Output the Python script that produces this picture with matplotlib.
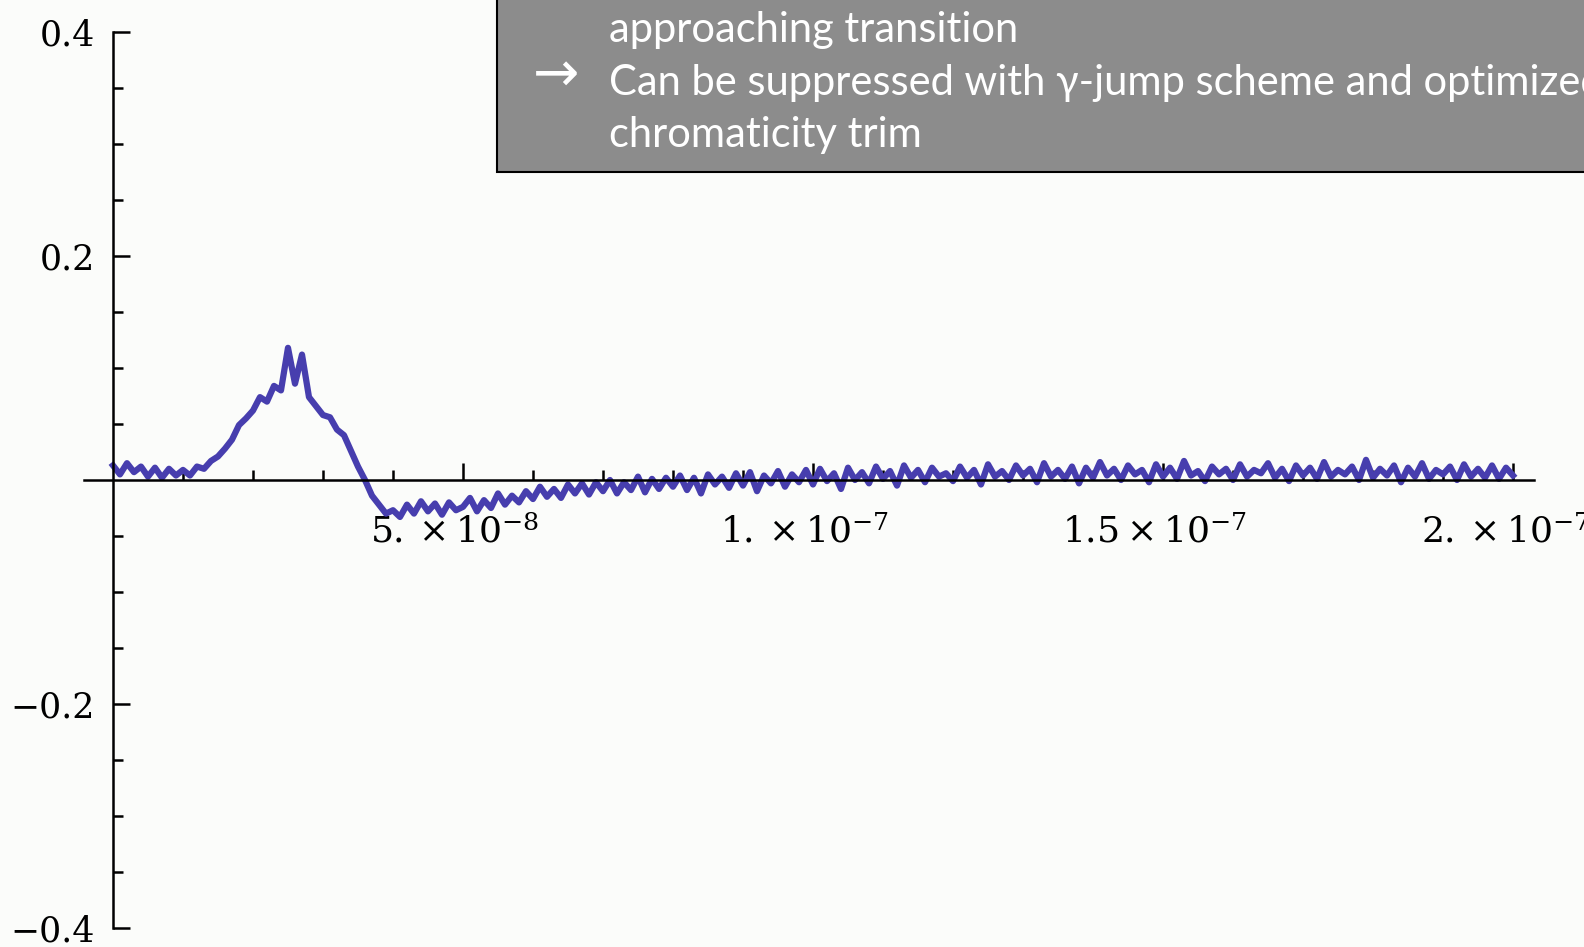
import numpy as np
import matplotlib
matplotlib.use("Agg")
import matplotlib.pyplot as plt
import matplotlib.transforms as mtransforms
from matplotlib.patches import Rectangle
from matplotlib.ticker import FixedLocator

# signal, one value per ns from 0 to 200 ns
signal = [
    0.013, 0.005, 0.015, 0.007, 0.012, 0.003, 0.011, 0.002, 0.010, 0.004,
    0.009, 0.004, 0.012, 0.010, 0.017, 0.021, 0.028, 0.036, 0.049, 0.055,
    0.062, 0.074, 0.070, 0.084, 0.080, 0.118, 0.086, 0.112, 0.074, 0.066,
    0.058, 0.056, 0.045, 0.040, 0.026, 0.012, 0.000, -0.014, -0.022, -0.030,
    -0.027, -0.033, -0.022, -0.030, -0.019, -0.028, -0.021, -0.031, -0.020, -0.027,
    -0.024, -0.016, -0.028, -0.018, -0.025, -0.012, -0.022, -0.014, -0.020, -0.010,
    -0.017, -0.006, -0.015, -0.008, -0.016, -0.004, -0.012, -0.003, -0.013, -0.002,
    -0.010, 0.000, -0.012, -0.002, -0.009, 0.003, -0.011, 0.001, -0.008, 0.002,
    -0.006, 0.004, -0.009, 0.002, -0.012, 0.005, -0.004, 0.003, -0.007, 0.006,
    -0.005, 0.007, -0.010, 0.004, -0.003, 0.008, -0.006, 0.005, -0.002, 0.009,
    -0.004, 0.010, -0.001, 0.006, -0.008, 0.011, 0.000, 0.007, -0.003, 0.012,
    0.001, 0.008, -0.005, 0.013, 0.002, 0.009, -0.002, 0.011, 0.003, 0.006,
    -0.001, 0.012, 0.002, 0.009, -0.004, 0.014, 0.003, 0.008, 0.000, 0.013,
    0.004, 0.010, -0.002, 0.015, 0.003, 0.009, 0.001, 0.012, -0.003, 0.011,
    0.002, 0.016, 0.004, 0.010, 0.000, 0.013, 0.005, 0.009, -0.002, 0.014,
    0.003, 0.011, 0.001, 0.017, 0.004, 0.008, -0.001, 0.012, 0.005, 0.010,
    0.000, 0.014, 0.003, 0.009, 0.006, 0.015, 0.002, 0.010, -0.001, 0.013,
    0.004, 0.011, 0.001, 0.016, 0.003, 0.009, 0.005, 0.012, 0.000, 0.018,
    0.002, 0.010, 0.004, 0.013, -0.002, 0.011, 0.003, 0.015, 0.001, 0.009,
    0.005, 0.012, 0.000, 0.014, 0.003, 0.010, 0.002, 0.013, 0.001, 0.011,
    0.004,
]
time = np.arange(len(signal)) * 1e-9

xticks = [5e-8, 1e-7, 1.5e-7, 2e-7]
xlabels = [r"$5.\times10^{-8}$", r"$1.\times10^{-7}$", r"$1.5\times10^{-7}$", r"$2.\times10^{-7}$"]
yticks = [-0.4, -0.2, 0.2, 0.4]
ylabels = ["\u22120.4", "\u22120.2", "0.2", "0.4"]

box_lines = ["approaching transition",
             "Can be suppressed with \u03b3-jump scheme and optimized",
             "chromaticity trim"]

plt.rcParams['mathtext.fontset'] = 'dejavuserif'
bg = '#fbfcfa'

fig = plt.figure(figsize=(15.84, 9.47), dpi=100, facecolor=bg)
ax = fig.add_axes([0, 0, 1, 1], facecolor=bg)

ax.plot(time, signal, color='#473eae', lw=4.5, zorder=2)

ax.set_xlim(-1.614e-8, 2.1014e-7)
ax.set_ylim(-0.417, 0.4286)

for s in ['top', 'right']:
    ax.spines[s].set_visible(False)
ax.spines['left'].set_position(('data', 0))
ax.spines['bottom'].set_position(('data', 0))
ax.spines['left'].set_bounds(-0.4, 0.4)
ax.spines['bottom'].set_bounds(-0.41e-8, 2.03e-7)
for s in ['left', 'bottom']:
    ax.spines[s].set_linewidth(1.8)
    ax.spines[s].set_zorder(3)

ax.xaxis.set_major_locator(FixedLocator(xticks))
ax.xaxis.set_minor_locator(FixedLocator([i * 1e-8 for i in range(1, 21) if i % 5]))
ax.set_xticklabels(xlabels)
ax.yaxis.set_major_locator(FixedLocator(yticks))
ax.yaxis.set_minor_locator(FixedLocator([v for v in np.arange(-0.35, 0.4, 0.05) if abs(round(v * 20)) % 4 and abs(v) > 0.01]))
ax.set_yticklabels(ylabels, family='DejaVu Serif')

ax.tick_params(axis='both', which='major', direction='in', length=12, width=1.8, labelsize=25, pad=13)
ax.tick_params(axis='x', which='major', pad=25, labelsize=26)
ax.tick_params(axis='both', which='minor', direction='in', length=7, width=1.8)

# nudge x labels a little to the left, like the original
shift = mtransforms.ScaledTranslation(-8 / 100, 0, fig.dpi_scale_trans)
for lab in ax.get_xticklabels():
    lab.set_transform(lab.get_transform() + shift)

# grey text box at the top
fig.patches.append(Rectangle((497 / 1584, 1 - 172 / 947), 1.2, 0.5, transform=fig.transFigure,
                             facecolor='#8c8c8c', edgecolor='black', lw=1.5, zorder=5))
fig.text(533 / 1584, 1 - 76 / 947, "\u2192", color='white', fontsize=40,
         family=['DejaVu Sans'], va='center', ha='left', zorder=6)
for i, line in enumerate(box_lines):
    fig.text(609 / 1584, 1 - (42 + 52.5 * i) / 947, line, color='white', fontsize=30,
             family=['Lato', 'DejaVu Sans'], va='baseline', ha='left', zorder=6)

fig.savefig('out.png', dpi=100, facecolor=bg)
